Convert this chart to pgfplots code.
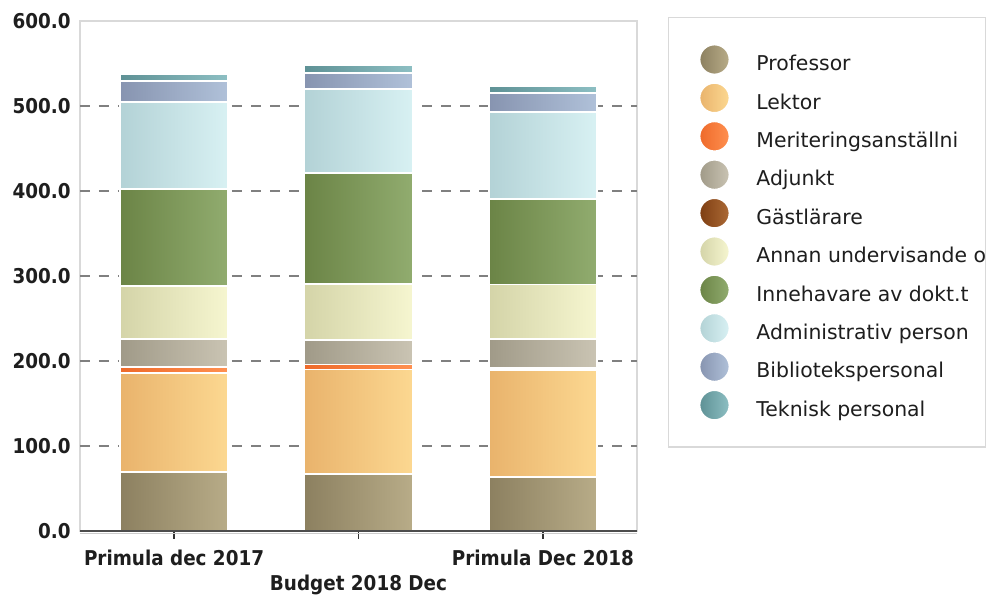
\documentclass[border=0pt]{standalone}
\usepackage{fontspec}
\setmainfont{DejaVu Sans}
\newfontfamily\tickfamily{DejaVu Sans}[FakeStretch=0.9]
\usepackage{pgfplots}
\usepackage{pgfplotstable}
\pgfplotsset{compat=1.18}

\definecolor{profL}{HTML}{8C8060}\definecolor{profR}{HTML}{B8AC88}
\definecolor{lektL}{HTML}{E9B36C}\definecolor{lektR}{HTML}{FCD891}
\definecolor{meritL}{HTML}{EE6A2A}\definecolor{meritR}{HTML}{FF9050}
\definecolor{adjL}{HTML}{A09A88}\definecolor{adjR}{HTML}{CAC4B3}
\definecolor{gastL}{HTML}{7E3E12}\definecolor{gastR}{HTML}{AC6A36}
\definecolor{annanL}{HTML}{D4D4A8}\definecolor{annanR}{HTML}{F6F6D0}
\definecolor{innehL}{HTML}{6B8446}\definecolor{innehR}{HTML}{91AC6F}
\definecolor{admL}{HTML}{B3D2D6}\definecolor{admR}{HTML}{D8F1F3}
\definecolor{biblL}{HTML}{8794B0}\definecolor{biblR}{HTML}{B0C1D9}
\definecolor{tekL}{HTML}{5E9195}\definecolor{tekR}{HTML}{8DBFC3}
\definecolor{txt}{HTML}{1E1E1E}

\newcommand\tickfont{\tickfamily\bfseries\fontsize{10.2}{12}\selectfont}
\newcommand\legfont{\fontsize{10.2}{12}\selectfont}
\newcommand\lt[1]{\makebox[99.5pt][l]{#1}}

% one table per bar (category)
\pgfplotstableread{
x prof lekt merit adj gast annan inneh adm bibl tek
0 69 117 7 33 0 62 114 103 24 9
}\barA
\pgfplotstableread{
x prof lekt merit adj gast annan inneh adm bibl tek
1 67 123 6 29 0 66 130 99 19 9
}\barB
\pgfplotstableread{
x prof lekt merit adj gast annan inneh adm bibl tek
2 64 125 3 34 0 64 101 102 22 8
}\barC

\pgfplotsset{
  base/.style={
    width=278.5pt, height=255pt, scale only axis,
    xmin=-0.51, xmax=2.51, ymin=0, ymax=600,
    ybar stacked, bar width=0.587,
  },
  s/.style n args={2}{left color=#1, right color=#2, draw=white, line width=0.9pt,
    legend image code/.code={\fill[left color=#1, right color=#2] (0pt,2.5pt) circle (7.5pt);}},
}

\newcommand\bars[1]{%
  \addplot[s={profL}{profR}]   table[x=x,y=prof]  {#1};
  \addplot[s={lektL}{lektR}]   table[x=x,y=lekt]  {#1};
  \addplot[s={meritL}{meritR}] table[x=x,y=merit] {#1};
  \addplot[s={adjL}{adjR}]     table[x=x,y=adj]   {#1};
  \addplot[s={gastL}{gastR}]   table[x=x,y=gast]  {#1};
  \addplot[s={annanL}{annanR}] table[x=x,y=annan] {#1};
  \addplot[s={innehL}{innehR}] table[x=x,y=inneh] {#1};
  \addplot[s={admL}{admR}]     table[x=x,y=adm]   {#1};
  \addplot[s={biblL}{biblR}]   table[x=x,y=bibl]  {#1};
  \addplot[s={tekL}{tekR}]     table[x=x,y=tek]   {#1};
}

\begin{document}
\begin{tikzpicture}
\useasboundingbox (-40pt,-32pt) rectangle (453pt,265.5pt);
\begin{axis}[base, name=ax,
  axis line style={draw=black!15, line width=0.6pt},
  tick align=outside, major tick length=4pt,
  xtick={0,1,2}, xtick pos=bottom,
  xticklabels={Primula dec 2017,{\raisebox{-12.5pt}{Budget 2018 Dec}},Primula Dec 2018},
  xticklabel style={anchor=base, inner sep=0pt, yshift=-13pt, font=\tickfont, text=txt},
  xtick style={draw=black!80, line width=0.8pt},
  ytick={0,100,200,300,400,500,600},
  ytick style={draw=none},
  yticklabel style={anchor=east, inner sep=0pt, xshift=-0.5pt, font=\tickfont, text=txt,
    /pgf/number format/fixed, /pgf/number format/fixed zerofill,
    /pgf/number format/precision=1, /pgf/number format/assume math mode=true},
  extra y ticks={100,200,300,400,500},
  extra y tick labels={},
  extra y tick style={grid=major, tick style={draw=none}},
  major grid style={dash pattern=on 5pt off 4.5pt, draw=black!50, line width=1pt},
  legend style={at={(1,1)}, anchor=north west, xshift=15.5pt, yshift=2pt,
    draw=black!15, line width=0.6pt, fill=white,
    inner xsep=15pt, inner ysep=13pt, row sep=3.3pt, column sep=13pt,
    font=\legfont, text=txt,
    nodes={inner sep=0pt}},
  legend cell align=left,
]
\bars{\barA}
\legend{\lt{Professor},\lt{Lektor},\lt{Meriteringsanställni},\lt{Adjunkt},\lt{Gästlärare},\lt{Annan undervisande o},\lt{Innehavare av dokt.t},\lt{Administrativ person},\lt{Bibliotekspersonal},\lt{Teknisk personal}}
\end{axis}
\begin{axis}[base, hide axis]
\bars{\barB}
\end{axis}
\begin{axis}[base, hide axis]
\bars{\barC}
\end{axis}
\draw[black!70, line width=1.3pt] (ax.south west) -- (ax.south east);
\draw[black!20, line width=0.6pt] ([yshift=-1.1pt]ax.south west) -- ([yshift=-1.1pt]ax.south east);
\end{tikzpicture}
\end{document}
